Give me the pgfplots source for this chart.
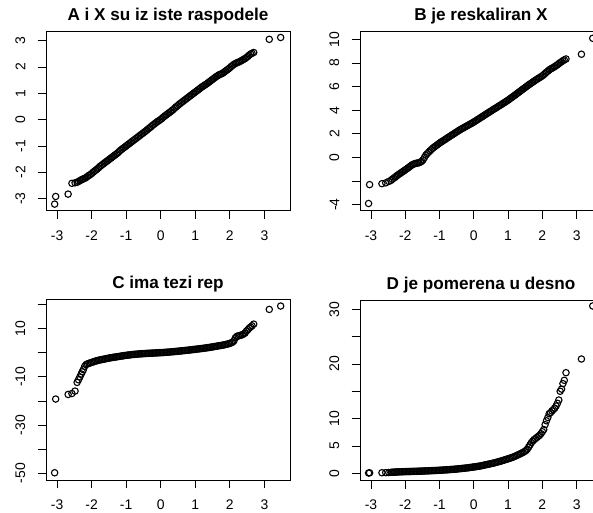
\documentclass[border=0pt]{standalone}
\usepackage{pgfplots}
\pgfplotsset{compat=1.18}
\usepackage{pgfplotstable}
\usepackage{fontspec}
\setmainfont{Liberation Sans}

% sorted sample X (column x) against the sorted samples A, B, C, D
\pgfplotstableread{
x A B C D
-3.07 -3.21 -3.90 -49.8 0.05
-3.04 -2.92 -2.30 -19.2 0.08
-2.68 -2.83 -2.22 -17.3 0.10
-2.57 -2.42 -2.15 -16.9 0.12
-2.48 -2.40 -2.03 -15.9 0.14
-2.42 -2.38 -1.95 -12.3 0.17
-2.38 -2.35 -1.85 -11.2 0.19
-2.34 -2.32 -1.76 -10.0 0.20
-2.30 -2.29 -1.68 -8.8 0.22
-2.27 -2.27 -1.61 -7.9 0.23
-2.24 -2.25 -1.53 -7.0 0.24
-2.20 -2.23 -1.45 -5.6 0.25
-2.16 -2.20 -1.37 -4.90 0.26
-2.12 -2.16 -1.29 -4.60 0.27
-2.08 -2.12 -1.21 -4.40 0.28
-2.04 -2.09 -1.13 -4.20 0.29
-2.00 -2.05 -1.05 -4.00 0.30
-1.96 -2.00 -0.97 -3.80 0.31
-1.92 -1.96 -0.89 -3.60 0.32
-1.88 -1.92 -0.80 -3.42 0.32
-1.84 -1.88 -0.71 -3.26 0.33
-1.80 -1.83 -0.62 -3.10 0.34
-1.76 -1.78 -0.57 -2.98 0.35
-1.72 -1.74 -0.52 -2.86 0.36
-1.68 -1.70 -0.49 -2.74 0.36
-1.64 -1.66 -0.47 -2.62 0.37
-1.60 -1.62 -0.45 -2.50 0.38
-1.56 -1.58 -0.39 -2.38 0.39
-1.52 -1.54 -0.33 -2.26 0.40
-1.48 -1.50 -0.20 -2.15 0.41
-1.44 -1.46 0.00 -2.05 0.42
-1.40 -1.42 0.20 -1.95 0.43
-1.36 -1.38 0.32 -1.86 0.44
-1.32 -1.34 0.44 -1.77 0.45
-1.28 -1.30 0.56 -1.68 0.46
-1.24 -1.26 0.67 -1.59 0.48
-1.20 -1.21 0.78 -1.50 0.49
-1.16 -1.16 0.87 -1.41 0.50
-1.12 -1.12 0.96 -1.32 0.51
-1.08 -1.08 1.04 -1.23 0.52
-1.04 -1.04 1.13 -1.14 0.54
-1.00 -1.00 1.22 -1.05 0.55
-0.96 -0.96 1.30 -0.98 0.57
-0.92 -0.92 1.37 -0.91 0.58
-0.88 -0.88 1.45 -0.84 0.60
-0.84 -0.84 1.52 -0.77 0.61
-0.80 -0.80 1.60 -0.70 0.63
-0.76 -0.76 1.68 -0.65 0.65
-0.72 -0.72 1.75 -0.60 0.67
-0.68 -0.68 1.83 -0.55 0.69
-0.64 -0.64 1.90 -0.50 0.70
-0.60 -0.60 1.98 -0.45 0.72
-0.56 -0.56 2.05 -0.41 0.74
-0.52 -0.52 2.13 -0.37 0.77
-0.48 -0.48 2.20 -0.33 0.79
-0.44 -0.44 2.28 -0.29 0.82
-0.40 -0.40 2.35 -0.25 0.84
-0.36 -0.35 2.42 -0.22 0.87
-0.32 -0.31 2.48 -0.19 0.90
-0.28 -0.27 2.55 -0.16 0.92
-0.24 -0.22 2.61 -0.13 0.95
-0.20 -0.18 2.68 -0.10 0.98
-0.16 -0.14 2.74 -0.07 1.01
-0.12 -0.10 2.81 -0.04 1.05
-0.08 -0.06 2.87 -0.01 1.08
-0.04 -0.03 2.94 0.02 1.12
0.00 0.01 3.00 0.05 1.15
0.04 0.05 3.08 0.09 1.19
0.08 0.10 3.15 0.13 1.23
0.12 0.14 3.23 0.17 1.27
0.16 0.18 3.30 0.21 1.31
0.20 0.22 3.38 0.25 1.35
0.24 0.26 3.45 0.30 1.40
0.28 0.30 3.53 0.35 1.46
0.32 0.34 3.60 0.40 1.51
0.36 0.38 3.68 0.45 1.57
0.40 0.43 3.75 0.50 1.62
0.44 0.48 3.82 0.56 1.68
0.48 0.52 3.90 0.62 1.73
0.52 0.57 3.97 0.68 1.79
0.56 0.61 4.05 0.74 1.84
0.60 0.65 4.12 0.80 1.90
0.64 0.69 4.19 0.86 1.97
0.68 0.73 4.26 0.92 2.04
0.72 0.77 4.34 0.98 2.11
0.76 0.81 4.41 1.04 2.18
0.80 0.85 4.48 1.10 2.25
0.84 0.89 4.56 1.17 2.33
0.88 0.93 4.63 1.24 2.41
0.92 0.97 4.71 1.31 2.49
0.96 1.01 4.78 1.38 2.57
1.00 1.05 4.86 1.45 2.65
1.04 1.09 4.94 1.52 2.73
1.08 1.13 5.03 1.59 2.81
1.12 1.17 5.11 1.66 2.90
1.16 1.21 5.20 1.73 3.00
1.20 1.25 5.28 1.80 3.10
1.24 1.28 5.37 1.88 3.22
1.28 1.32 5.46 1.96 3.34
1.32 1.35 5.54 2.04 3.46
1.36 1.39 5.63 2.12 3.58
1.40 1.43 5.72 2.20 3.70
1.44 1.47 5.81 2.30 3.84
1.48 1.51 5.89 2.40 3.98
1.52 1.55 5.98 2.50 4.15
1.56 1.59 6.06 2.60 4.40
1.60 1.63 6.15 2.70 4.80
1.64 1.66 6.23 2.80 5.20
1.68 1.70 6.31 2.90 5.60
1.72 1.72 6.39 3.00 5.90
1.76 1.74 6.47 3.10 6.15
1.80 1.77 6.55 3.20 6.35
1.84 1.81 6.62 3.32 6.55
1.88 1.85 6.70 3.44 6.75
1.92 1.89 6.77 3.58 6.95
1.96 1.93 6.85 3.74 7.25
2.00 1.97 6.92 3.90 7.60
2.04 2.02 7.02 4.15 8.00
2.08 2.06 7.12 4.40 8.90
2.12 2.10 7.22 5.00 9.60
2.16 2.13 7.32 6.20 10.20
2.20 2.16 7.42 6.80 10.90
2.24 2.18 7.50 7.00 11.10
2.28 2.20 7.56 7.15 11.40
2.32 2.23 7.63 7.30 11.65
2.36 2.26 7.70 7.50 11.90
2.40 2.29 7.78 7.80 12.30
2.44 2.32 7.86 8.20 12.80
2.48 2.36 7.95 9.00 13.40
2.52 2.40 8.04 9.60 15.00
2.56 2.45 8.12 10.20 15.40
2.60 2.49 8.20 10.70 16.40
2.64 2.52 8.27 11.20 17.00
2.69 2.55 8.35 11.90 18.40
3.14 3.05 8.75 18.00 20.90
3.47 3.12 10.10 19.40 30.60
}\qqdata

\pgfplotsset{
  qqpanel/.style={
    scale only axis,
    xmin=-3.32, xmax=3.74,
    axis line style={black, line width=0.8bp},
    tick align=outside,
    major tick length=8.5bp,
    xtick pos=left, ytick pos=left,
    tick style={black, line width=0.8bp},
    xtick={-3,-2,-1,0,1,2,3},
    xticklabels={-3,-2,-1,0,1,2,3},
    tick label style={font=\fontsize{14}{16}\selectfont, inner sep=0pt},
    xticklabel style={anchor=north},
    yticklabel style={rotate=90, anchor=south},
    xticklabel shift=11.5bp,
    yticklabel shift=12bp,
    every axis title shift=0pt,
    title style={font=\bfseries\fontsize{17.2}{20}\selectfont,
      at={(0.5,1)}, anchor=base, yshift=11bp, inner sep=0pt},
  },
  qqmarks/.style={only marks, mark=o, mark size=3.2bp,
    mark options={line width=1.1bp, draw=black}},
}

\begin{document}
\begin{tikzpicture}
\useasboundingbox (0bp,0bp) rectangle (593bp,513bp);
\clip (0bp,0bp) rectangle (593bp,513bp);

\begin{axis}[qqpanel, at={(46bp,302.3bp)}, anchor=south west,
  width=244bp, height=179bp,
  ymin=-3.46, ymax=3.34,
  ytick={-3,-2,-1,0,1,2,3}, yticklabels={-3,-2,-1,0,1,2,3},
  title={A i X su iz iste raspodele}]
  \addplot[qqmarks] table[x=x, y=A] {\qqdata};
\end{axis}

\begin{axis}[qqpanel, at={(360bp,302.3bp)}, anchor=south west,
  width=242bp, height=179bp,
  ymin=-4.51, ymax=10.66,
  ytick={-4,-2,0,2,4,6,8,10}, yticklabels={-4,{},0,2,4,6,8,10},
  title={B je reskaliran X}]
  \addplot[qqmarks] table[x=x, y=B] {\qqdata};
\end{axis}

\begin{axis}[qqpanel, at={(46bp,33bp)}, anchor=south west,
  width=244bp, height=180.7bp,
  ymin=-52.8, ymax=22.2,
  ytick={-50,-40,-30,-20,-10,0,10,20},
  yticklabels={-50,{},-30,{},-10,{},10,{}},
  title={C ima tezi rep}]
  \addplot[qqmarks] table[x=x, y=C] {\qqdata};
\end{axis}

\begin{axis}[qqpanel, at={(360bp,33bp)}, anchor=south west,
  width=242bp, height=179.7bp,
  ymin=-1.23, ymax=31.64,
  ytick={0,5,10,15,20,25,30}, yticklabels={0,5,10,{},20,{},30},
  title={D je pomerena u desno}]
  \addplot[qqmarks] table[x=x, y=D] {\qqdata};
\end{axis}
\end{tikzpicture}
\end{document}
